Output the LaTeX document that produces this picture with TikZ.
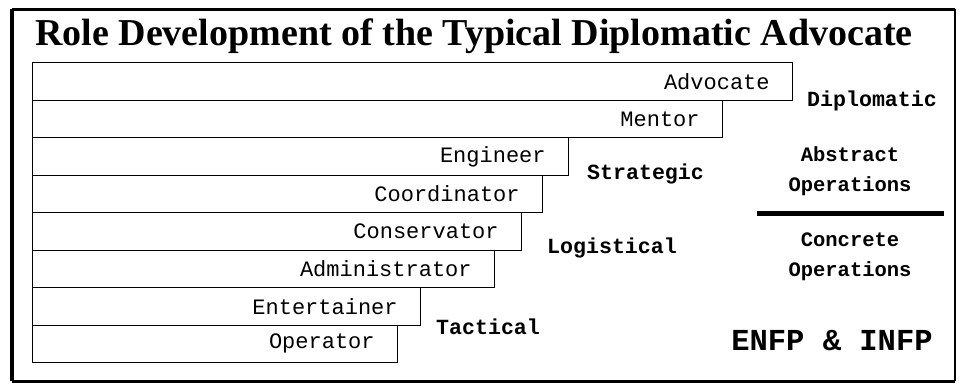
\documentclass[tikz,border=0pt]{standalone}
\usepackage{fontspec}
\setmainfont{Liberation Serif}
\setmonofont{Liberation Mono}
\begin{document}
\begin{tikzpicture}[x=1pt,y=-1pt,
  bar/.style={draw, line width=1.3pt, anchor=north west, minimum height=37.5pt,
    inner xsep=23pt, inner ysep=0pt, align=right, font=\fontsize{22}{24}\selectfont\ttfamily},
  lvl/.style={font=\fontsize{21.6}{24}\selectfont\ttfamily\bfseries, inner sep=0pt},
  ops/.style={font=\fontsize{20.5}{30}\selectfont\ttfamily\bfseries, inner sep=0pt, align=center}]
\useasboundingbox (0,0) rectangle (960,384);
% frame
\coordinate (tl) at (12,9);
\coordinate (tr) at (955,9);
\coordinate (br) at (955,381);
\coordinate (bl) at (12,381);
\draw[line width=3pt] (tl) -- (tr);
\draw[line width=1.5pt] (tr) -- (br);
\draw[line width=3pt] (br) -- (bl);
\draw[line width=4pt] (bl) -- (tl);
% title
\node[font=\fontsize{38}{42}\selectfont\bfseries, inner sep=0pt] (title) at (474,36) {Role Development of the Typical Diplomatic Advocate};
% bars
\node[bar, text width=714pt] (adv) at (32,62) {Advocate};
\node[bar, text width=644pt] (men) at (32,99.5) {Mentor};
\node[bar, text width=490pt] (eng) at (32,137) {Engineer};
\node[bar, text width=464pt] (coo) at (32,174.5) {Coordinator};
\node[bar, text width=443pt] (con) at (32,212) {Conservator};
\node[bar, text width=416pt] (adm) at (32,249.5) {Administrator};
\node[bar, text width=342pt] (ent) at (32,287) {Entertainer};
\node[bar, text width=319pt] (opr) at (32,324.5) {Operator};
% levels
\node[lvl, anchor=west] (dip) at (807,101) {Diplomatic};
\node[lvl, anchor=west] (str) at (587,174) {Strategic};
\node[lvl, anchor=west] (log) at (547,248) {Logistical};
\node[lvl, anchor=west] (tac) at (436,327) {Tactical};
% operations
\node[ops] (abs) at (850,171) {Abstract\\Operations};
\coordinate (la) at (757,213);
\coordinate (lb) at (944,213);
\draw[line width=5pt] (la) -- (lb);
\node[ops] (cnc) at (850,257) {Concrete\\Operations};
\node[font=\fontsize{30.5}{34}\selectfont\ttfamily\bfseries, inner sep=0pt] (typ) at (832,341) {ENFP \& INFP};
\end{tikzpicture}
\end{document}
